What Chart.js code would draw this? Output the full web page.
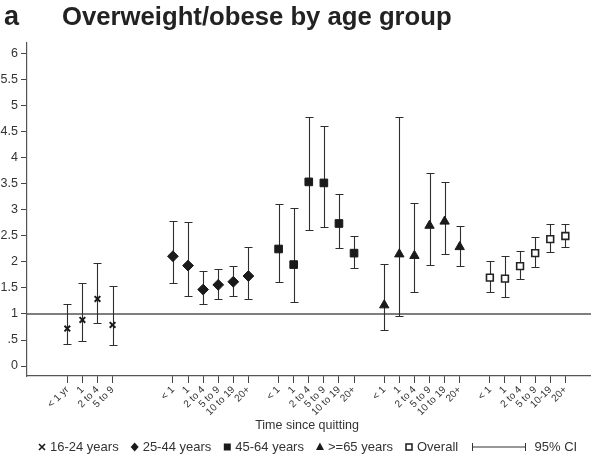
<!DOCTYPE html>
<html>
<head>
<meta charset="utf-8">
<script src="https://cdn.jsdelivr.net/npm/chart.js@4/dist/chart.umd.min.js"></script>
<style>
  html, body { margin: 0; padding: 0; background: #fff; }
  #wrap { position: relative; width: 591px; height: 467px; }
  canvas { display: block; }
</style>
</head>
<body>
<div id="wrap"><canvas id="c" width="591" height="467"></canvas></div>
<script>
// Time-since-quitting categories for each block of the x axis
const timeCats16_24 = ["< 1 yr", "1", "2 to 4", "5 to 9"];
const timeCatsAdult = ["< 1", "1", "2 to 4", "5 to 9", "10 to 19", "20+"];
const timeCatsOverall = ["< 1", "1", "2 to 4", "5 to 9", "10-19", "20+"];

const seriesNames = ["16-24 years", "25-44 years", "45-64 years", ">=65 years", "Overall"];

// Estimates with lower / upper 95% CI limits
const est16_24 = [0.72, 0.885, 1.29, 0.79];
const lo16_24  = [0.43, 0.49, 0.82, 0.41];
const hi16_24  = [1.20, 1.60, 1.99, 1.54];

const est25_44 = [2.11, 1.93, 1.47, 1.56, 1.62, 1.73];
const lo25_44  = [1.60, 1.35, 1.19, 1.29, 1.35, 1.29];
const hi25_44  = [2.78, 2.76, 1.82, 1.87, 1.92, 2.29];

const est45_64 = [2.25, 1.95, 3.54, 3.52, 2.74, 2.17];
const lo45_64  = [1.62, 1.24, 2.62, 2.67, 2.27, 1.88];
const hi45_64  = [3.11, 3.04, 4.79, 4.61, 3.31, 2.49];

const est65 = [1.17, 2.15, 2.12, 2.70, 2.78, 2.29];
const lo65  = [0.69, 0.955, 1.43, 1.94, 2.16, 1.92];
const hi65  = [1.96, 4.79, 3.14, 3.71, 3.53, 2.70];

const estAll = [1.70, 1.68, 1.92, 2.17, 2.44, 2.50];
const loAll  = [1.43, 1.33, 1.67, 1.90, 2.19, 2.29];
const hiAll  = [2.02, 2.11, 2.21, 2.48, 2.73, 2.73];

const yTickValues = [0, 0.5, 1, 1.5, 2, 2.5, 3, 3.5, 4, 4.5, 5, 5.5, 6];

// ---- layout of the blocks along a numeric x axis ----
const blocks = [
  { cats: timeCats16_24,   est: est16_24, lo: lo16_24, hi: hi16_24, gap: 0 },
  { cats: timeCatsAdult,   est: est25_44, lo: lo25_44, hi: hi25_44, gap: 3 },
  { cats: timeCatsAdult,   est: est45_64, lo: lo45_64, hi: hi45_64, gap: 1 },
  { cats: timeCatsAdult,   est: est65,    lo: lo65,    hi: hi65,    gap: 1 },
  { cats: timeCatsOverall, est: estAll,   lo: loAll,   hi: hiAll,   gap: 1 }
];
const tickLabelAt = {};
const tickPositions = [];
let cursor = 0;
blocks.forEach((b, bi) => {
  if (bi > 0) cursor += b.gap;
  b.start = cursor;
  b.cats.forEach((c, i) => { tickLabelAt[cursor + i] = c; tickPositions.push(cursor + i); });
  cursor += b.cats.length;
});

const styles = [
  { pointStyle: 'crossRot', radius: 4, fill: '#1a1a1a', border: '#1a1a1a', bw: 2 },
  { pointStyle: 'rectRot',  radius: 5.4, fill: '#1a1a1a', border: '#1a1a1a', bw: 1 },
  { pointStyle: 'rect',     radius: 5.4, fill: '#1a1a1a', border: '#1a1a1a', bw: 1 },
  { pointStyle: 'triangle', radius: 5.4, fill: '#1a1a1a', border: '#1a1a1a', bw: 1 },
  { pointStyle: 'rect',     radius: 4.8, fill: '#ffffff', border: '#222222', bw: 1.6 }
];

const datasets = blocks.map((b, bi) => ({
  label: seriesNames[bi],
  data: b.est.map((v, i) => ({ x: b.start + i, y: v })),
  ciLow: b.lo,
  ciHigh: b.hi,
  showLine: false,
  pointStyle: styles[bi].pointStyle,
  pointRadius: styles[bi].radius,
  pointBackgroundColor: styles[bi].fill,
  pointBorderColor: styles[bi].border,
  pointBorderWidth: styles[bi].bw
}));

const FONT = '"Liberation Sans", Arial, Helvetica, sans-serif';

// error bars drawn beneath the markers
const errorBars = {
  id: 'errorBars',
  beforeDatasetsDraw(chart) {
    const { ctx, scales: { x, y } } = chart;
    ctx.save();
    ctx.strokeStyle = '#2e2e2e';
    ctx.lineWidth = 1.1;
    chart.data.datasets.forEach(ds => {
      ds.data.forEach((p, i) => {
        const px = Math.round(x.getPixelForValue(p.x)) + 0.5;
        const yl = Math.round(y.getPixelForValue(ds.ciLow[i])) + 0.5;
        const yh = Math.round(y.getPixelForValue(ds.ciHigh[i])) + 0.5;
        ctx.beginPath();
        ctx.moveTo(px, yl); ctx.lineTo(px, yh);
        ctx.moveTo(px - 4, yl); ctx.lineTo(px + 4, yl);
        ctx.moveTo(px - 4, yh); ctx.lineTo(px + 4, yh);
        ctx.stroke();
      });
    });
    ctx.restore();
  }
};

// reference line at an odds ratio of 1
const refLine = {
  id: 'refLine',
  beforeDatasetsDraw(chart) {
    const { ctx, chartArea, scales: { y } } = chart;
    const py = y.getPixelForValue(1);
    ctx.save();
    ctx.strokeStyle = '#555';
    ctx.lineWidth = 1.4;
    ctx.beginPath();
    ctx.moveTo(chartArea.left, py); ctx.lineTo(chartArea.right, py);
    ctx.stroke();
    ctx.restore();
  }
};

function legendMarker(ctx, kind, cx, cy) {
  ctx.save();
  ctx.fillStyle = '#1a1a1a';
  ctx.strokeStyle = '#1a1a1a';
  ctx.beginPath();
  if (kind === 0) {
    ctx.lineWidth = 1.6;
    ctx.moveTo(cx - 3, cy - 3); ctx.lineTo(cx + 3, cy + 3);
    ctx.moveTo(cx + 3, cy - 3); ctx.lineTo(cx - 3, cy + 3);
    ctx.stroke();
  } else if (kind === 1) {
    ctx.moveTo(cx, cy - 4.5); ctx.lineTo(cx + 4, cy); ctx.lineTo(cx, cy + 4.5); ctx.lineTo(cx - 4, cy);
    ctx.closePath(); ctx.fill();
  } else if (kind === 2) {
    ctx.rect(cx - 3.5, cy - 3.5, 7, 7); ctx.fill();
  } else if (kind === 3) {
    ctx.moveTo(cx, cy - 4.5); ctx.lineTo(cx + 4, cy + 3); ctx.lineTo(cx - 4, cy + 3);
    ctx.closePath(); ctx.fill();
  } else {
    ctx.lineWidth = 1.5;
    ctx.fillStyle = '#fff';
    ctx.rect(cx - 3, cy - 3, 6, 6); ctx.fill(); ctx.stroke();
  }
  ctx.restore();
}

// title, x-axis caption and legend
const annotations = {
  id: 'annotations',
  afterDraw(chart) {
    const { ctx } = chart;
    ctx.save();
    ctx.fillStyle = '#222';
    ctx.textBaseline = 'alphabetic';
    ctx.textAlign = 'left';
    ctx.font = 'bold 27px ' + FONT;
    ctx.fillText('a', 4, 25);
    ctx.font = 'bold 25.7px ' + FONT;
    ctx.fillText('Overweight/obese by age group', 62, 25);

    ctx.font = '12.5px ' + FONT;
    ctx.textAlign = 'center';
    ctx.textBaseline = 'middle';
    ctx.fillStyle = '#333';
    ctx.fillText('Time since quitting', 307, 426);

    // legend
    ctx.font = '13px ' + FONT;
    ctx.textAlign = 'left';
    const ly = 447;
    let x = 38;
    seriesNames.forEach((name, i) => {
      legendMarker(ctx, i, x + 4, ly);
      ctx.fillStyle = '#333';
      ctx.fillText(name, x + 12, ly);
      x = x + 12 + ctx.measureText(name).width + 12;
    });
    // confidence interval key
    ctx.strokeStyle = '#333';
    ctx.lineWidth = 1;
    const x0 = Math.round(x + 2) + 0.5, x1 = x0 + 53;
    ctx.beginPath();
    ctx.moveTo(x0, ly); ctx.lineTo(x1, ly);
    ctx.moveTo(x0, ly - 4); ctx.lineTo(x0, ly + 4);
    ctx.moveTo(x1, ly - 4); ctx.lineTo(x1, ly + 4);
    ctx.stroke();
    ctx.fillStyle = '#333';
    ctx.fillText('95% CI', x1 + 9, ly);
    ctx.restore();
  }
};

new Chart(document.getElementById('c'), {
  type: 'scatter',
  data: { datasets },
  options: {
    responsive: false,
    animation: false,
    events: [],
    layout: { autoPadding: false, padding: { top: 43, left: 0, right: 0, bottom: 0 } },
    plugins: { legend: { display: false }, tooltip: { enabled: false }, title: { display: false } },
    scales: {
      x: {
        type: 'linear',
        min: -2.67,
        max: 34.7,
        afterBuildTicks(scale) { scale.ticks = tickPositions.map(v => ({ value: v })); },
        afterFit(scale) { scale.height = 91; scale.paddingLeft = 0; scale.paddingRight = 0; },
        ticks: {
          autoSkip: false,
          minRotation: 45,
          maxRotation: 45,
          padding: 1,
          color: '#333',
          font: { family: FONT, size: 10 },
          callback: (v) => tickLabelAt[v] !== undefined ? tickLabelAt[v] : ''
        },
        grid: { drawOnChartArea: false, drawTicks: true, tickLength: 7, color: '#444' },
        border: { color: '#555', width: 1.2 }
      },
      y: {
        min: -0.192,
        max: 6.21,
        afterBuildTicks(scale) { scale.ticks = yTickValues.map(v => ({ value: v })); },
        afterFit(scale) { scale.width = 27; scale.paddingTop = 0; scale.paddingBottom = 0; },
        ticks: {
          padding: 3,
          color: '#333',
          font: { family: FONT, size: 12.5 },
          callback: (v) => (v > 0 && v < 1) ? String(v).replace(/^0/, '') : String(v)
        },
        grid: { drawOnChartArea: false, drawTicks: true, tickLength: 6, color: '#444' },
        border: { color: '#555', width: 1.2 }
      }
    }
  },
  plugins: [refLine, errorBars, annotations]
});
</script>
</body>
</html>
